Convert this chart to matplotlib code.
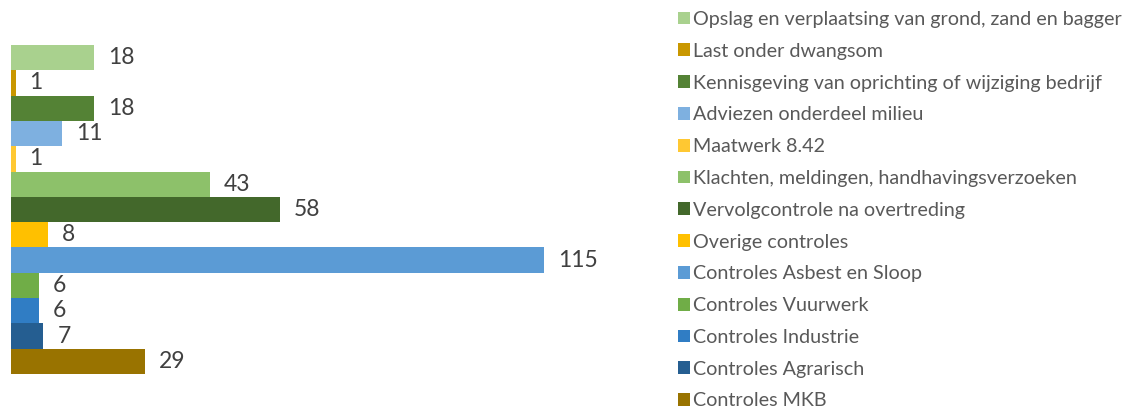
import matplotlib
matplotlib.use("Agg")
import matplotlib.pyplot as plt

categories = [
    "Opslag en verplaatsing van grond, zand en bagger",
    "Last onder dwangsom",
    "Kennisgeving van oprichting of wijziging bedrijf",
    "Adviezen onderdeel milieu",
    "Maatwerk 8.42",
    "Klachten, meldingen, handhavingsverzoeken",
    "Vervolgcontrole na overtreding",
    "Overige controles",
    "Controles Asbest en Sloop",
    "Controles Vuurwerk",
    "Controles Industrie",
    "Controles Agrarisch",
    "Controles MKB",
]
values = [18, 1, 18, 11, 1, 43, 58, 8, 115, 6, 6, 7, 29]
colors = ["#A9D18E", "#C99700", "#548235", "#7EB0E0", "#FFC832", "#8DC16A",
          "#43682B", "#FFC000", "#5B9BD5", "#70AD47", "#307DC4", "#255E91", "#997300"]

plt.rcParams['font.family'] = ['Lato', 'DejaVu Sans']

fig = plt.figure(figsize=(11.3, 4.12), dpi=100)
ax = fig.add_axes([11/1130, 38/412, 649/1130, 329/412])

handles = []
for i, (cat, val, col) in enumerate(zip(categories, values, colors)):
    b = ax.barh(i, val, height=1.0, color=col, label=cat)
    ax.bar_label(b, labels=[str(val)], padding=10, fontsize=16.5, color="#404040")
    handles.append(b)

ax.set_ylim(12.5, -0.5)
ax.set_xlim(0, 140)
ax.axis("off")

fig.legend(handles=handles, labels=categories, loc="upper left",
           bbox_to_anchor=(678/1130, 1 - 11/412), frameon=False,
           fontsize=14.2, labelcolor="#595959", handlelength=0.62, handleheight=0.62,
           handletextpad=0.15, labelspacing=0.75, borderaxespad=0, borderpad=0)

fig.savefig("out.png", dpi=100)
